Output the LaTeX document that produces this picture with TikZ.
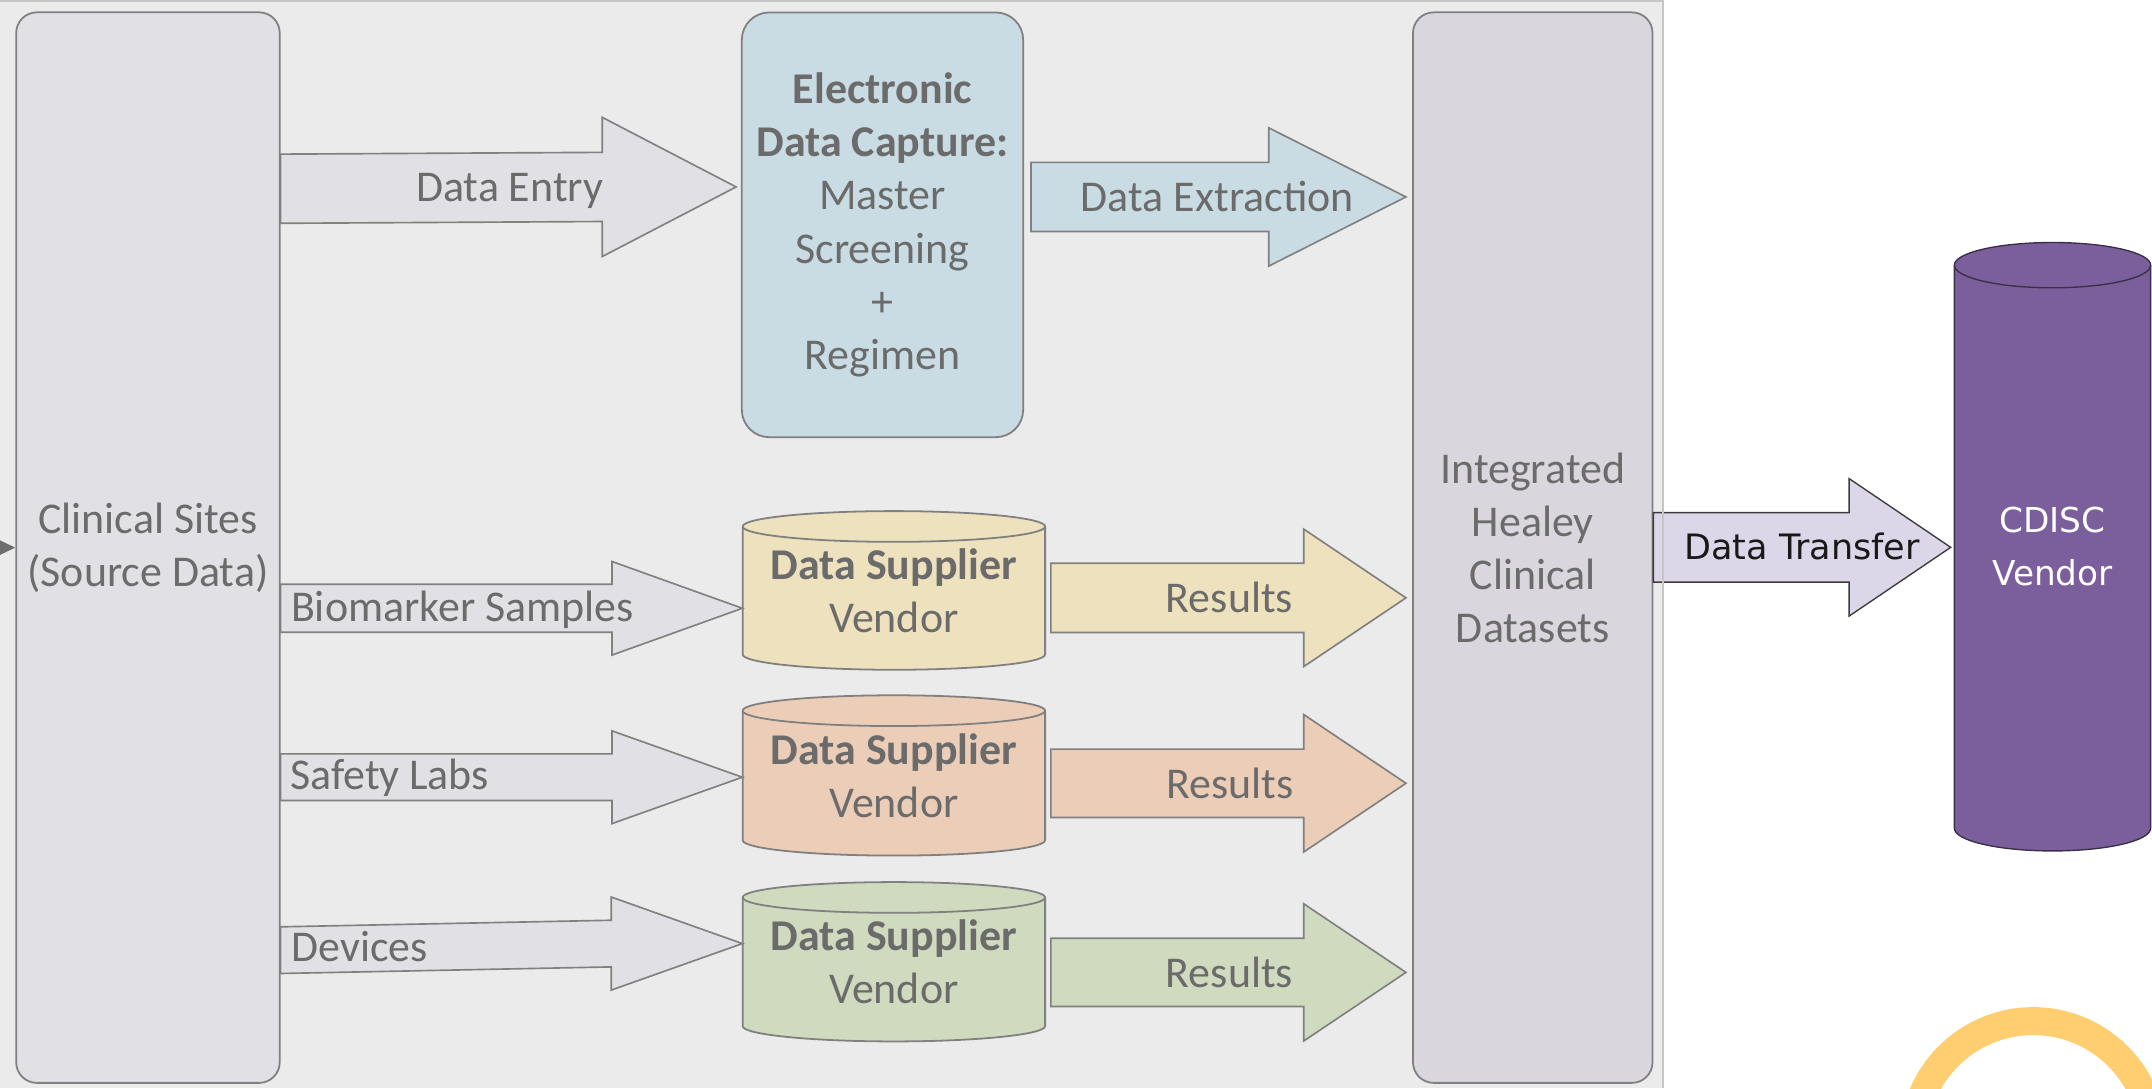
\documentclass[tikz,border=0pt]{standalone}
\usepackage{fontspec}
\setmainfont{Carlito}
\newfontfamily\widesans{DejaVu Sans}
\usetikzlibrary{calc,arrows.meta}

\definecolor{panelbg}{HTML}{EBEBEB}
\definecolor{panelline}{HTML}{C6C6C6}
\definecolor{edgegray}{HTML}{808080}
\definecolor{txtgray}{HTML}{6B6B6B}
\definecolor{clinfill}{HTML}{E1E0E4}
\definecolor{integfill}{HTML}{D9D6DE}
\definecolor{edcfill}{HTML}{C9DCE3}
\definecolor{yelfill}{HTML}{EEE1BD}
\definecolor{salfill}{HTML}{ECCDB7}
\definecolor{grnfill}{HTML}{D0DABE}
\definecolor{cdiscfill}{HTML}{7B5F9C}
\definecolor{cdiscedge}{HTML}{3A3046}
\definecolor{xferfill}{HTML}{DCD7E8}
\definecolor{xferedge}{HTML}{3C3C3C}
\definecolor{ringcol}{HTML}{FFCE70}
\definecolor{tipdark}{HTML}{6E6E6E}

\newcommand\bodyfont{\fontsize{32}{38.7}\selectfont}
\newcommand\widefont{\widesans\fontsize{25.5}{39}\selectfont}

\tikzset{
  tallbox/.style={draw=edgegray, line width=1.3pt, rounded corners=15pt,
    inner sep=0pt, align=center, text=txtgray, font=\bodyfont},
  lbl/.style={text=txtgray, font=\bodyfont, inner sep=0pt},
  flow/.style={draw=edgegray, line width=1.2pt, line join=miter},
  drumline/.style={draw=edgegray, line width=1.3pt},
  drumtext/.style={inner sep=0pt, align=center, text=txtgray, font=\bodyfont},
}

% block arrow: #1 style, #2 tail point, #3 tip point, #4 tail axis y,
% #5 tip axis y, #6 shaft half width, #7 head half width, #8 head length
\newcommand\blockarrow[8]{%
  \draw[#1] let \p1=(#2), \p2=(#3) in
    (\x1,#4pt+#6pt) -- (\x2-#8pt,#5pt+#6pt) -- (\x2-#8pt,#5pt+#7pt) -- (\x2,#5pt)
    -- (\x2-#8pt,#5pt-#7pt) -- (\x2-#8pt,#5pt-#6pt) -- (\x1,#4pt-#6pt) -- cycle;
}

% storage drum: #1 name, #2 centre x, #3 top y, #4 bottom y, #5 half width,
% #6 rim half height, #7 path style, #8 text, #9 text style
\newcommand\drum[9]{%
  \path[#7] (#2-#5,#3-#6) -- (#2-#5,#4+#6)
    arc[start angle=180,end angle=360,x radius=#5,y radius=#6]
    -- (#2+#5,#3-#6)
    arc[start angle=0,end angle=180,x radius=#5,y radius=#6] -- cycle;
  \path[#7, fill=none] (#2-#5,#3-#6)
    arc[start angle=180,end angle=360,x radius=#5,y radius=#6];
  \node[drumtext, #9, minimum width={2*#5}, minimum height={#3-#4}]
    (#1) at (#2,{(#3+#4)/2}) {#8};
}

\begin{document}
\begin{tikzpicture}[x=1pt,y=1pt]
\useasboundingbox (0,0) rectangle (1568,-793);

% background panel and the ring in the corner
\begin{scope}
  \clip (0,0) rectangle (1568,-793);
  \fill[panelbg] (0,0) rectangle (1211.5,-793);
  \draw[ringcol, line width=20.4pt] (1481.4,-831.4) circle[radius=87.4];
\end{scope}

% main boxes
\node[tallbox, fill=clinfill, minimum width=192pt, minimum height=780pt]
  (clin) at (107.8,-399) {Clinical Sites\\(Source Data)};
\node[tallbox, fill=edcfill, rounded corners=20pt, minimum width=205pt, minimum height=309.5pt]
  (edc) at (643,-163.8) {\textbf{Electronic}\\\textbf{Data Capture:}\\Master\\Screening\\+\\Regimen};
\node[tallbox, fill=integfill, minimum width=174.5pt, minimum height=780pt]
  (integ) at (1116.8,-399) {Integrated\\Healey\\Clinical\\Datasets};

% data suppliers and the CDISC vendor
\drum{supA}{651.3}{-372.4}{-488}{110.2}{11.2}{fill=yelfill, drumline}{\textbf{Data Supplier}\\Vendor}{}
\drum{supB}{651.3}{-506.6}{-623.4}{110.2}{11.2}{fill=salfill, drumline}{\textbf{Data Supplier}\\Vendor}{}
\drum{supC}{651.3}{-642.7}{-758.8}{110.2}{11.2}{fill=grnfill, drumline}{\textbf{Data Supplier}\\Vendor}{}
\drum{cdisc}{1495.5}{-176.7}{-620}{71.5}{16.5}{fill=cdiscfill, draw=cdiscedge, line width=1pt}{CDISC\\Vendor}{text=white, font=\widesans\fontsize{25}{39}\selectfont}

% flows from the clinical sites
\blockarrow{flow, fill=clinfill}{clin.east}{$(edc.west)+(-3.5,0)$}{-137.5}{-136.2}{25.2}{50.7}{97.5}
\blockarrow{flow, fill=clinfill}{clin.east}{supA.west}{-443.2}{-443.2}{17.5}{34.1}{95}
\blockarrow{flow, fill=clinfill}{clin.east}{supB.west}{-566.3}{-566.3}{17}{33.8}{95}
\blockarrow{flow, fill=clinfill}{clin.east}{supC.west}{-692.3}{-687.5}{17}{33.9}{95.5}

% flows into the integrated datasets
\blockarrow{flow, fill=edcfill}{$(edc.east)+(5,0)$}{$(integ.west)+(-4.5,0)$}{-143.5}{-143.5}{25.2}{50.4}{100}
\blockarrow{flow, fill=yelfill}{$(supA.east)+(4,0)$}{$(integ.west)+(-4.5,0)$}{-435.6}{-435.6}{25.2}{50.1}{74.5}
\blockarrow{flow, fill=salfill}{$(supB.east)+(4,0)$}{$(integ.west)+(-4.5,0)$}{-570.7}{-570.7}{24.9}{50.1}{74.5}
\blockarrow{flow, fill=grnfill}{$(supC.east)+(4,0)$}{$(integ.west)+(-4.5,0)$}{-708.5}{-708.5}{24.9}{50}{74.5}

% transfer to the CDISC vendor
\blockarrow{draw=xferedge, line width=1pt, line join=miter, fill=xferfill}{integ.east}{$(cdisc.west)+(-2.5,0)$}{-398.8}{-398.8}{25.3}{50.1}{74}

% right edge of the panel
\draw[panelline, line width=1.5pt] (0,-0.75) -- (1211.5,-0.75) -- (1211.5,-793);

% incoming connector from the left
\begin{scope}
  \clip (0,0) rectangle (1568,-793);
  \coordinate (offstage) at (-40,-399);
  \draw[tipdark, line width=1.5pt, -{Triangle[length=13pt,width=12pt]}] (offstage) -- (clin.west);
\end{scope}

% flow labels
\node[lbl, anchor=base] (tEntry) at (371.4,-146.8) {Data Entry};
\node[lbl, anchor=base] (tExtract) at (887,-154.3) {Data Extraction};
\node[lbl, anchor=base west] (tBio) at (211.9,-452.6) {Biomarker Samples};
\node[lbl, anchor=base west] (tSafety) at (211.2,-575.6) {Safety Labs};
\node[lbl, anchor=base west] (tDevices) at (212.2,-700.3) {Devices};
\node[lbl, anchor=base] (tResA) at (895.8,-446.6) {Results};
\node[lbl, anchor=base] (tResB) at (896.3,-581.8) {Results};
\node[lbl, anchor=base] (tResC) at (895.8,-719.8) {Results};
\node[inner sep=0pt, anchor=base, font=\widefont, text=black!90] (tXfer) at (1313,-407.6) {Data Transfer};
\end{tikzpicture}
\end{document}
